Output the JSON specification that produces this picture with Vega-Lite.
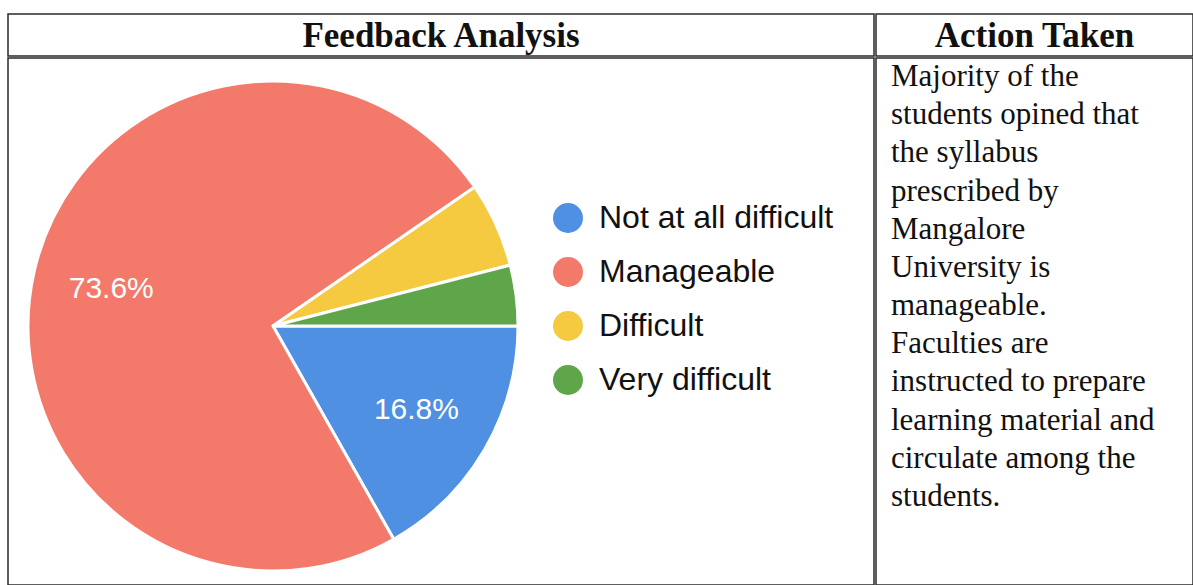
{
  "$schema": "https://vega.github.io/schema/vega-lite/v6.json",
  "padding": {"left": 7, "top": 13, "right": 3, "bottom": 3},
  "background": "white",
  "spacing": 0,
  "config": {
    "view": {"stroke": "#2a2a2a", "strokeWidth": 1.5},
    "concat": {"spacing": 0}
  },
  "datasets": {
    "headers": [
      {"col": "left", "title": "Feedback Analysis"},
      {"col": "right", "title": "Action Taken"}
    ],
    "slices": [
      {"category": "Not at all difficult", "pct": 16.8, "rank": 1, "label": "16.8%"},
      {"category": "Manageable", "pct": 73.6, "rank": 2, "label": "73.6%"},
      {"category": "Difficult", "pct": 5.6, "rank": 3, "label": "5.6%"},
      {"category": "Very difficult", "pct": 4.0, "rank": 4, "label": "4.0%"}
    ],
    "lines": [
      {"i": 0, "line": "Majority of the"},
      {"i": 1, "line": "students opined that"},
      {"i": 2, "line": "the syllabus"},
      {"i": 3, "line": "prescribed by"},
      {"i": 4, "line": "Mangalore"},
      {"i": 5, "line": "University is"},
      {"i": 6, "line": "manageable."},
      {"i": 7, "line": "Faculties are"},
      {"i": 8, "line": "instructed to prepare"},
      {"i": 9, "line": "learning material and"},
      {"i": 10, "line": "circulate among the"},
      {"i": 11, "line": "students."}
    ]
  },
  "hconcat": [
    {
      "spacing": 0,
      "vconcat": [
        {
          "width": 866,
          "height": 42,
          "data": {"name": "headers"},
          "transform": [{"filter": "datum.col === 'left'"}],
          "mark": {"type": "text", "font": "Liberation Serif", "fontWeight": "bold", "fontSize": 35, "baseline": "middle", "dy": 1, "color": "#111111"},
          "encoding": {
            "y": {"field": "title", "type": "nominal", "axis": null},
            "text": {"field": "title"}
          }
        },
        {
          "width": 866,
          "height": 527,
          "data": {"name": "slices"},
          "layer": [
            {
              "mark": {"type": "arc", "outerRadius": 245, "stroke": "white", "strokeWidth": 3, "x": 265, "y": 268},
              "encoding": {
                "theta": {"field": "pct", "type": "quantitative", "stack": true, "scale": {"range": [1.5707963, 7.8539816]}},
                "order": {"field": "rank", "type": "quantitative"},
                "color": {
                  "field": "category",
                  "type": "nominal",
                  "sort": ["Not at all difficult", "Manageable", "Difficult", "Very difficult"],
                  "scale": {
                    "domain": ["Not at all difficult", "Manageable", "Difficult", "Very difficult"],
                    "range": ["#4f90e2", "#f37a6b", "#f6ca40", "#5fa64a"]
                  },
                  "legend": {
                    "orient": "none",
                    "legendX": 544,
                    "legendY": 188,
                    "title": null,
                    "symbolType": "circle",
                    "symbolSize": 900,
                    "symbolStrokeWidth": 0,
                    "labelFont": "Liberation Sans",
                    "labelFontSize": 32,
                    "labelColor": "#111111",
                    "labelOffset": 15,
                    "rowPadding": 22,
                    "padding": 0,
                    "labelLimit": 400
                  }
                }
              }
            },
            {
              "mark": {"type": "text", "radius": 166, "font": "Liberation Sans", "fontSize": 30, "x": 265, "y": 268},
              "encoding": {
                "theta": {"field": "pct", "type": "quantitative", "stack": true},
                "order": {"field": "rank", "type": "quantitative"},
                "color": {"value": "white"},
                "text": {"condition": {"test": "datum.pct > 10", "field": "label"}, "value": ""}
              }
            },
            {
              "mark": {"type": "text", "opacity": 0},
              "encoding": {
                "y": {"field": "category", "type": "nominal", "axis": null},
                "text": {"value": ""}
              }
            }
          ]
        }
      ]
    },
    {
      "spacing": 0,
      "vconcat": [
        {
          "width": 317,
          "height": 42,
          "data": {"name": "headers"},
          "transform": [{"filter": "datum.col === 'right'"}],
          "mark": {"type": "text", "font": "Liberation Serif", "fontWeight": "bold", "fontSize": 35, "baseline": "middle", "dy": 1, "color": "#111111"},
          "encoding": {
            "y": {"field": "title", "type": "nominal", "axis": null},
            "text": {"field": "title"}
          }
        },
        {
          "width": 317,
          "height": 527,
          "data": {"name": "lines"},
          "mark": {"type": "text", "align": "left", "baseline": "alphabetic", "font": "Liberation Serif", "fontSize": 31, "x": 15, "color": "#111111"},
          "encoding": {
            "y": {"field": "i", "type": "ordinal", "scale": {"type": "point", "range": [28, 448], "padding": 0}, "axis": null},
            "text": {"field": "line"}
          }
        }
      ]
    }
  ]
}
